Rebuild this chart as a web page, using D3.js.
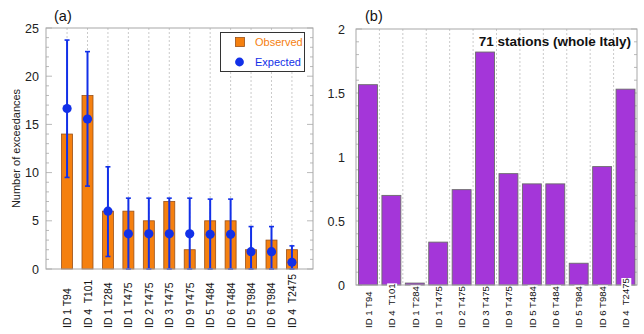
<!DOCTYPE html>
<html>
<head>
<meta charset="utf-8">
<script src="https://cdn.jsdelivr.net/npm/d3@7"></script>
<style>
  html, body { margin: 0; padding: 0; background: #fff; }
  svg { display: block; font-family: "Liberation Sans", Arial, Helvetica, sans-serif; }
</style>
</head>
<body>
<svg id="chart" width="644" height="334"></svg>
<script>
// Station / return-period labels shared by both panels
const categories = ["ID 1 T94", "ID 4  T101", "ID 1 T284", "ID 1 T475", "ID 2 T475", "ID 3 T475",
                    "ID 9 T475", "ID 5 T484", "ID 6 T484", "ID 5 T984", "ID 6 T984", "ID 4  T2475"];

// Panel (a): observed vs expected number of exceedances
const observed = [14, 18, 6, 6, 5, 7, 2, 5, 5, 2, 3, 2];
const expected = [16.65, 15.55, 6.0, 3.65, 3.65, 3.65, 3.65, 3.6, 3.6, 1.8, 1.8, 0.7];
const expectedLow = [9.5, 8.6, 1.3, 0, 0, 0, 0, 0, 0, 0, 0, 0];
const expectedHigh = [23.75, 22.55, 10.6, 7.35, 7.35, 7.35, 7.35, 7.25, 7.25, 4.4, 4.4, 2.4];
const ticksA = [0, 5, 10, 15, 20, 25];

// Panel (b): ratio values for 71 stations
const ratio = [1.565, 0.70, 0.015, 0.335, 0.745, 1.82, 0.87, 0.79, 0.79, 0.17, 0.925, 1.53];
const ticksB = [0, 0.5, 1, 1.5, 2];

const svg = d3.select("#chart");
const frameColor = "#a8a8a8";
const gridColor = "#bdbdbd";
const orange = "#f5800f";
const blue = "#1230e8";
const purple = "#a436d9";

function drawMinorTicks(g, y, values, x0, x1, len) {
  values.forEach(v => {
    g.append("line").attr("x1", x0).attr("x2", x0 + len)
      .attr("y1", y(v)).attr("y2", y(v)).attr("stroke", frameColor).attr("stroke-width", 0.8);
    g.append("line").attr("x1", x1).attr("x2", x1 - len)
      .attr("y1", y(v)).attr("y2", y(v)).attr("stroke", frameColor).attr("stroke-width", 0.8);
  });
}

function drawXLabels(g, positions, baseY, fontSize, withBackground) {
  categories.forEach((c, i) => {
    const lg = g.append("g")
      .attr("transform", `translate(${positions[i] + 4},${baseY}) rotate(-90)`);
    const t = lg.append("text")
      .attr("text-anchor", "start")
      .attr("font-size", fontSize)
      .attr("fill", "#111")
      .attr("xml:space", "preserve")
      .style("white-space", "pre")
      .text(c);
    if (withBackground) {
      const bb = t.node().getBBox();
      lg.insert("rect", "text")
        .attr("x", bb.x).attr("y", bb.y + 1).attr("width", bb.width).attr("height", bb.height - 1)
        .attr("fill", "#fff");
    }
  });
}

// ---------- Panel (a) ----------
{
  const L = 46, R = 313, T = 28, B = 269;
  const x = d3.scalePoint().domain(d3.range(categories.length)).range([L, R]).padding(1.03);
  const y = d3.scaleLinear().domain([0, 25]).range([B, T]);
  const g = svg.append("g");
  const barW = 11;

  // vertical dashed grid at each category
  g.selectAll(".grid").data(d3.range(categories.length)).join("line")
    .attr("x1", i => x(i)).attr("x2", i => x(i)).attr("y1", T).attr("y2", B)
    .attr("stroke", gridColor).attr("stroke-width", 0.8).attr("stroke-dasharray", "2,2");

  // minor ticks every unit
  drawMinorTicks(g, y, d3.range(0, 26).filter(v => v % 5 !== 0), L, R, 3);
  drawMinorTicks(g, y, ticksA, L, R, 6);

  // observed bars
  g.selectAll(".bar").data(observed).join("rect")
    .attr("x", (d, i) => x(i) - barW / 2).attr("width", barW)
    .attr("y", d => y(d)).attr("height", d => y(0) - y(d))
    .attr("fill", orange).attr("stroke", "#9a5018").attr("stroke-width", 0.8);

  // error bars for expected values
  const eg = g.append("g");
  expected.forEach((d, i) => {
    const cx = x(i);
    eg.append("line").attr("x1", cx).attr("x2", cx)
      .attr("y1", y(expectedLow[i])).attr("y2", y(expectedHigh[i]))
      .attr("stroke", blue).attr("stroke-width", 2);
    eg.append("line").attr("x1", cx - 2.5).attr("x2", cx + 2.5)
      .attr("y1", y(expectedHigh[i])).attr("y2", y(expectedHigh[i]))
      .attr("stroke", blue).attr("stroke-width", 1.6);
    eg.append("line").attr("x1", cx - 2.5).attr("x2", cx + 2.5)
      .attr("y1", y(expectedLow[i])).attr("y2", y(expectedLow[i]))
      .attr("stroke", blue).attr("stroke-width", 1.6);
    eg.append("circle").attr("cx", cx).attr("cy", y(d)).attr("r", 4.6).attr("fill", blue);
  });

  // frame
  g.append("rect").attr("x", L).attr("y", T).attr("width", R - L).attr("height", B - T)
    .attr("fill", "none").attr("stroke", frameColor).attr("stroke-width", 1);

  // y tick labels
  g.selectAll(".yt").data(ticksA).join("text")
    .attr("x", L - 7).attr("y", d => y(d) + 4.5).attr("text-anchor", "end")
    .attr("font-size", 12.5).attr("fill", "#222").text(d => d);

  g.append("text")
    .attr("transform", `translate(20,${(T + B) / 2}) rotate(-90)`)
    .attr("text-anchor", "middle").attr("font-size", 11).attr("fill", "#222")
    .text("Number of exceedances");

  g.append("text").attr("x", 54).attr("y", 21).attr("font-size", 14.5).attr("fill", "#111").text("(a)");

  drawXLabels(g, categories.map((c, i) => x(i)), 328, 10.4, false);

  // legend
  const lg = g.append("g");
  lg.append("rect").attr("x", 220.5).attr("y", 32.5).attr("width", 84).attr("height", 39)
    .attr("fill", "#fff").attr("stroke", "#333").attr("stroke-width", 1);
  lg.append("rect").attr("x", 235.5).attr("y", 37.5).attr("width", 9).attr("height", 9)
    .attr("fill", orange).attr("stroke", "#9a5018").attr("stroke-width", 0.8);
  lg.append("text").attr("x", 255).attr("y", 46).attr("font-size", 11).attr("fill", orange).text("Observed");
  lg.append("circle").attr("cx", 239.5).attr("cy", 62).attr("r", 4.4).attr("fill", blue);
  lg.append("text").attr("x", 255).attr("y", 66).attr("font-size", 11).attr("fill", blue).text("Expected");
}

// ---------- Panel (b) ----------
{
  const L = 356, R = 637, T = 29, B = 285;
  const xb = d3.scaleBand().domain(d3.range(categories.length)).range([L, R]);
  const y = d3.scaleLinear().domain([0, 2]).range([B, T]);
  const g = svg.append("g");

  // dashed separators between categories
  g.selectAll(".grid").data(d3.range(1, categories.length)).join("line")
    .attr("x1", i => xb(i)).attr("x2", i => xb(i)).attr("y1", T).attr("y2", B)
    .attr("stroke", gridColor).attr("stroke-width", 0.8).attr("stroke-dasharray", "2,2");

  drawMinorTicks(g, y, d3.range(0, 21).filter(v => v % 5 !== 0).map(v => v / 10), L, R, 3);
  drawMinorTicks(g, y, ticksB, L, R, 6);

  g.selectAll(".bar").data(ratio).join("rect")
    .attr("x", (d, i) => xb(i) + 2.5).attr("width", xb.bandwidth() - 4.5)
    .attr("y", d => y(d)).attr("height", d => y(0) - y(d))
    .attr("fill", purple).attr("stroke", "#6a6a6a").attr("stroke-width", 0.9);

  g.append("rect").attr("x", L).attr("y", T).attr("width", R - L).attr("height", B - T)
    .attr("fill", "none").attr("stroke", frameColor).attr("stroke-width", 1);

  g.selectAll(".yt").data(ticksB).join("text")
    .attr("x", L - 11).attr("y", d => y(d) + 4.5).attr("text-anchor", "end")
    .attr("font-size", 12.5).attr("fill", "#222").text(d => d);

  g.append("text").attr("x", 365).attr("y", 21).attr("font-size", 14.5).attr("fill", "#111").text("(b)");

  g.append("text").attr("x", 631).attr("y", 46).attr("text-anchor", "end")
    .attr("font-size", 13.5).attr("font-weight", "bold").attr("fill", "#111")
    .text("71 stations (whole Italy)");

  drawXLabels(g, categories.map((c, i) => xb(i) + xb.bandwidth() / 2), 328, 9.6, true);
}
</script>
</body>
</html>
